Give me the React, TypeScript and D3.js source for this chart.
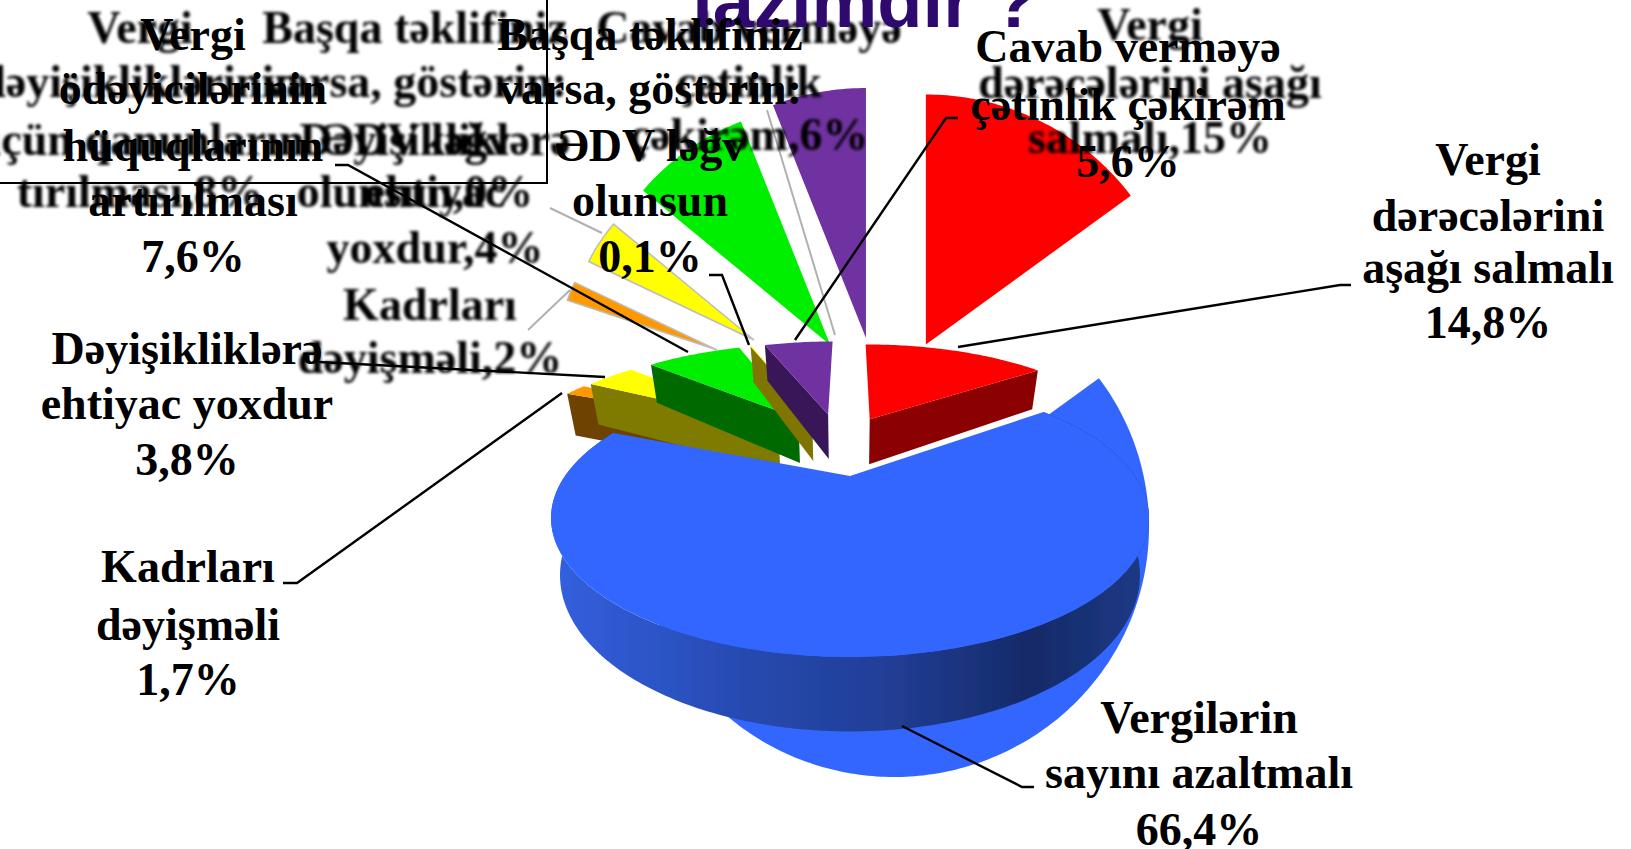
import React from "react";
import * as d3 from "d3";

// ---------- data ----------
const frontNames = ["Vergi dərəcələrini aşağı salmalı", "Vergilərin sayını azaltmalı", "Kadrları dəyişməli", "Dəyişikliklərə ehtiyac yoxdur", "Vergi ödəyicilərinin hüquqlarının artırılması", "ƏDV ləğv olunsun", "Cavab verməyə çətinlik çəkirəm"];
const frontValues = [14.8, 66.4, 1.7, 3.8, 7.6, 0.1, 5.6];
const backValues = [15, 66, 2, 4, 8, 0, 6];
const titleText = "lazımdır ?";

// ---------- styles / layout ----------
const topColors = ["#ff0000", "#3366ff", "#ff9900", "#ffff00", "#00ee00", "#ffff00", "#7030a0"];
const wallColors = ["#8b0000", "url(#blueWall)", "#6e4300", "#7f7a00", "#006a00", "#7f7400", "#381858"];
const backColors = ["#ff0000", "#3366ff", "#ff9900", "#ffff00", "#00ee00", "#ffff00", "#7030a0"];
// explosion offset of each slice, in pie units
const frontOffsets: [number, number][] = [[0.08, 0.52], [0, 0], [-0.31, 0.43], [-0.287, 0.457], [-0.21, 0.53], [-0.155, 0.55], [-0.09, 0.57]];
const backOffsets: [number, number][] = [[0.125, 0.73], [0, 0], [-0.694, 0.708], [-0.549, 0.748], [-0.25, 0.728], [-0.155, 0.75], [-0.11, 0.756]];
const backRadii = [1, 1, 0.62, 0.72, 0.96, 1, 1];
const drawOrder = [2, 3, 4, 5, 6, 0, 1];
const frontProj = { x0: 850, y0: 476, W: 285, H: 126.3, k: 0.302 };
const backProj = { x0: 894, y0: 527, W: 255, H: 250, k: 0 };
const DEPTH = 52;

type L = { cx: number; lines: string[]; ys: number[] };
const backLabels: L[] = [
  { cx: 1150, lines: ["Vergi", "dərəcələrini aşağı", "salmalı,15%"], ys: [40, 98, 153] },
  { cx: 749, lines: ["Cavab verməyə", "çətinlik", "çəkirəm,6%"], ys: [43, 97, 150] },
  { cx: 415, lines: ["Başqa təklifiniz", "varsa, göstərin:", "ƏDV ləğv", "olunsun,0%"], ys: [43, 97, 155, 207] },
  { cx: 435, lines: ["Dəyişikliklərə", "ehtiyac", "yoxdur,4%"], ys: [155, 207, 263] },
  { cx: 140, lines: ["Vergi", "dəyişikliklərinin", "üçün qanunların", "tırılması,8%"], ys: [43, 97, 155, 207] },
  { cx: 430, lines: ["Kadrları", "dəyişməli,2%"], ys: [320, 373] },
];
const frontLabels: L[] = [
  { cx: 1488, lines: ["Vergi", "dərəcələrini", "aşağı salmalı", "14,8%"], ys: [175, 231, 283, 338] },
  { cx: 1199, lines: ["Vergilərin", "sayını azaltmalı", "66,4%"], ys: [733, 788, 845] },
  { cx: 188, lines: ["Kadrları", "dəyişməli", "1,7%"], ys: [582, 640, 695] },
  { cx: 187, lines: ["Dəyişikliklərə", "ehtiyac yoxdur", "3,8%"], ys: [364, 419, 475] },
  { cx: 193, lines: ["Vergi", "ödəyicilərinin", "hüquqlarının", "artırılması", "7,6%"], ys: [50, 104, 161, 216, 272] },
  { cx: 650, lines: ["Başqa təklifiniz", "varsa, göstərin:", "ƏDV ləğv", "olunsun", "0,1%"], ys: [50, 104, 161, 216, 272] },
  { cx: 1128, lines: ["Cavab verməyə", "çətinlik çəkirəm", "5,6%"], ys: [62, 120, 177] },
];
const leaders: [number, number][][] = [
  [[1351, 285], [1340, 285], [958, 347]],
  [[902, 726], [1022, 787], [1034, 787]],
  [[283, 583], [297, 583], [562, 393]],
  [[319, 362], [605, 377]],
  [[335, 165], [348, 165], [688, 352]],
  [[709, 275], [722, 275], [749, 345]],
  [[958, 118], [946, 118], [795, 340]],
];
const greyLeaders: [number, number][][] = [
  [[528, 330], [570, 290]],
  [[550, 208], [602, 233]],
  [[767, 110], [835, 335]],
];

// ---------- geometry ----------
type P = typeof frontProj;
const project = (p: P, u: number, v: number, drop = 0, sx = 1): [number, number] => {
  const d = 1 + p.k * v;
  return [p.x0 + (sx * p.W * u) / d, p.y0 - (p.H * v) / d + drop / d];
};
const pie = d3.pie<number>().sort(null).startAngle(0).endAngle(2 * Math.PI);
const line = d3.line();
const closed = (pts: [number, number][]) => line(pts) + "Z";
const arcAngles = (a0: number, a1: number) => {
  const n = Math.max(2, Math.ceil((a1 - a0) * 60));
  return d3.range(n + 1).map((i) => a0 + ((a1 - a0) * i) / n);
};
const rim = (a: number, o: [number, number], r = 1): [number, number] => [o[0] + r * Math.sin(a), o[1] + r * Math.cos(a)];

const frontArcs = pie(frontValues);
const backArcs = pie(backValues);

function Text({ l, size }: { l: L; size: number }) {
  return (
    <>
      {l.lines.map((t, i) => (
        <text key={i} x={l.cx} y={l.ys[i]} textAnchor="middle" fontFamily="'Liberation Serif', serif" fontWeight="bold" fontSize={size} fill="#000">{t}</text>
      ))}
    </>
  );
}

export default function App() {
  const lowerScale = 0.97;
  return (
    <svg width={1631} height={849} viewBox="0 0 1631 849" style={{ position: "absolute", left: 0, top: 0, display: "block", background: "#fff" }}>
      <defs>
        <filter id="soft" x="-5%" y="-20%" width="110%" height="140%"><feGaussianBlur stdDeviation="1.5" /></filter>
        <filter id="softer" x="-5%" y="-5%" width="110%" height="110%"><feGaussianBlur stdDeviation="0.7" /></filter>
        <linearGradient id="blueWall" gradientUnits="userSpaceOnUse" x1="550" y1="0" x2="1150" y2="0">
          <stop offset="0" stopColor="#3360e0" />
          <stop offset="0.35" stopColor="#2648ad" />
          <stop offset="0.55" stopColor="#223f98" />
          <stop offset="0.8" stopColor="#152a68" />
          <stop offset="1" stopColor="#1d3a86" />
        </linearGradient>
      </defs>

      {/* faded back pie */}
      <g filter="url(#softer)">
        {backArcs.map((a, i) => {
          if (backValues[i] === 0) return null;
          const o = backOffsets[i];
          const pts = [project(backProj, o[0], o[1]), ...arcAngles(a.startAngle, a.endAngle).map((t) => {
            const q = rim(t, o, backRadii[i]);
            return project(backProj, q[0], q[1]);
          })];
          return <path key={i} d={closed(pts)} fill={backColors[i]} stroke="#bdbdbd" strokeWidth={i === 2 || i === 3 ? 1.5 : 0} />;
        })}
        {greyLeaders.map((g, i) => <path key={i} d={line(g)!} fill="none" stroke="#b0b0b0" strokeWidth={2} />)}
      </g>

      <g filter="url(#soft)">
        {backLabels.map((l, i) => <Text key={i} l={l} size={46} />)}
      </g>

      {/* title and box */}
      <text x={865} y={27} textAnchor="middle" fontFamily="'Liberation Sans', sans-serif" fontWeight="bold" fontSize={74} fill="#2f0a6e">{titleText}</text>
      <path d="M0,183 H547 V0" fill="none" stroke="#000" strokeWidth={2} />

      {/* front perspective pie */}
      <g filter="url(#softer)">
        {drawOrder.map((i) => {
          const a = frontArcs[i];
          const o = frontOffsets[i];
          const apex = project(frontProj, o[0], o[1]);
          const apexLow = project(frontProj, o[0], o[1], DEPTH, lowerScale);
          const ts = arcAngles(a.startAngle, a.endAngle);
          const top: [number, number][] = ts.map((t) => {
            const q = rim(t, o);
            return project(frontProj, q[0], q[1]);
          });
          const low: [number, number][] = ts.map((t) => {
            const q = rim(t, o);
            return project(frontProj, q[0], q[1], DEPTH, lowerScale);
          });
          let wall = "";
          if (i === 1) wall = closed([...top, ...low.slice().reverse()]);
          else if (i === 0) wall = closed([apex, top[top.length - 1], low[low.length - 1], apexLow]);
          else wall = closed([top[0], apex, apexLow, low[0]]);
          return (
            <g key={frontNames[i]}>
              <path d={wall} fill={wallColors[i]} />
              <path d={closed([apex, ...top])} fill={topColors[i]} />
            </g>
          );
        })}
      </g>

      {leaders.map((g, i) => <path key={i} d={line(g)!} fill="none" stroke="#000" strokeWidth={2.4} />)}
      {frontLabels.map((l, i) => <Text key={i} l={l} size={46} />)}
    </svg>
  );
}
